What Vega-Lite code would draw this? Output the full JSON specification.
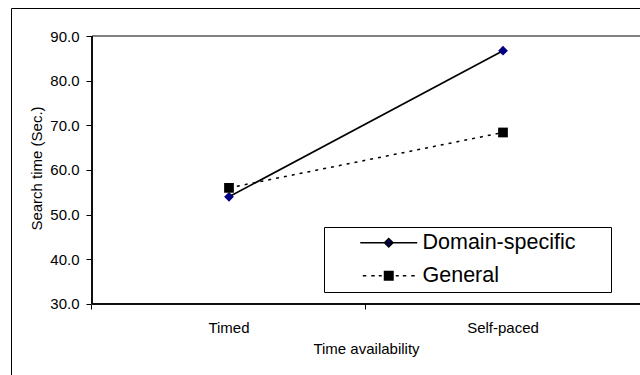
{
  "$schema": "https://vega.github.io/schema/vega-lite/v6.json",
  "width": 629,
  "height": 367,
  "autosize": {"type": "none"},
  "padding": {"left": 11, "top": 8, "right": 0, "bottom": 0},
  "background": "white",
  "config": {
    "view": {"stroke": "black", "strokeWidth": 1},
    "font": "Liberation Sans"
  },
  "data": {
    "values": [
      {"series": "Domain-specific", "time": "Timed", "value": 54.0},
      {"series": "Domain-specific", "time": "Self-paced", "value": 86.7},
      {"series": "General", "time": "Timed", "value": 56.0},
      {"series": "General", "time": "Self-paced", "value": 68.4}
    ]
  },
  "encoding": {
    "x": {
      "field": "time",
      "type": "ordinal",
      "scale": {"type": "band", "domain": ["Timed", "Self-paced"], "paddingInner": 0, "paddingOuter": 0.1478, "align": 1},
      "axis": {
        "orient": "bottom",
        "offset": -71,
        "domain": false,
        "grid": false,
        "bandPosition": 0,
        "tickExtra": true,
        "ticks": true,
        "tickSize": 5,
        "tickColor": "black",
        "labelAngle": 0,
        "labelFont": "Liberation Sans",
        "labelFontSize": 15,
        "labelColor": "black",
        "labelPadding": 11,
        "title": "Time availability",
        "titleFont": "Liberation Sans",
        "titleFontSize": 15,
        "titleFontWeight": "normal",
        "titleColor": "black",
        "titlePadding": 6,
        "titleX": 355
      }
    },
    "y": {
      "field": "value",
      "type": "quantitative",
      "scale": {"domain": [14.104, 96.269], "nice": false, "zero": false},
      "axis": {
        "orient": "left",
        "offset": -80,
        "domain": false,
        "grid": false,
        "values": [30, 40, 50, 60, 70, 80, 90],
        "format": ".1f",
        "tickSize": 5,
        "tickColor": "black",
        "labelFont": "Liberation Sans",
        "labelFontSize": 15,
        "labelColor": "black",
        "labelPadding": 7,
        "title": "Search time (Sec.)",
        "titleFont": "Liberation Sans",
        "titleFontSize": 15,
        "titleFontWeight": "normal",
        "titleColor": "black",
        "titlePadding": 5,
        "titleY": 160
      }
    }
  },
  "layer": [
    {
      "mark": {"type": "rule", "color": "#808080", "strokeWidth": 1.5},
      "encoding": {
        "x": {"datum": "Timed", "type": "ordinal", "bandPosition": 0},
        "x2": {"datum": "Self-paced", "bandPosition": 1},
        "y": {"datum": 90, "type": "quantitative"}
      }
    },
    {
      "mark": {"type": "rule", "color": "black", "strokeWidth": 1},
      "encoding": {
        "x": {"datum": "Timed", "type": "ordinal", "bandPosition": 0},
        "y": {"datum": 30, "type": "quantitative"},
        "y2": {"datum": 90}
      }
    },
    {
      "mark": {"type": "rule", "color": "black", "strokeWidth": 1},
      "encoding": {
        "x": {"datum": "Timed", "type": "ordinal", "bandPosition": 0},
        "x2": {"datum": "Self-paced", "bandPosition": 1},
        "y": {"datum": 30, "type": "quantitative"}
      }
    },
    {
      "transform": [{"filter": "datum.series === 'Domain-specific'"}],
      "mark": {"type": "line", "color": "black", "strokeWidth": 1.6},
      "encoding": {}
    },
    {
      "transform": [{"filter": "datum.series === 'General'"}],
      "mark": {"type": "line", "color": "black", "strokeWidth": 1.5, "strokeDash": [3, 5]},
      "encoding": {}
    },
    {
      "transform": [{"filter": "datum.series === 'Domain-specific'"}],
      "mark": {"type": "point", "filled": true, "opacity": 1, "size": 95, "shape": "diamond", "color": "#000080"},
      "encoding": {}
    },
    {
      "transform": [{"filter": "datum.series === 'General'"}],
      "mark": {"type": "point", "filled": true, "opacity": 1, "size": 95, "shape": "square", "color": "#000000"},
      "encoding": {}
    },
    {
      "mark": {"type": "point", "filled": true, "opacity": 1, "size": 0, "stroke": "black", "strokeWidth": 1.5},
      "encoding": {
        "color": {
          "field": "series",
          "type": "nominal",
          "scale": {"domain": ["Domain-specific", "General"], "range": ["#000080", "#000000"]},
          "legend": {
            "orient": "none",
            "legendX": 313,
            "legendY": 219,
            "title": ".",
            "titleOrient": "right",
            "titleColor": "white",
            "titleFontSize": 10,
            "titlePadding": 28,
            "direction": "vertical",
            "strokeColor": "black",
            "fillColor": "white",
            "padding": 5,
            "labelFont": "Liberation Sans",
            "labelFontSize": 21.5,
            "labelColor": "black",
            "labelLimit": 400,
            "symbolSize": 100,
            "symbolOffset": 49,
            "labelOffset": 23,
            "rowPadding": 10,
            "symbolOpacity": 1,
            "symbolStrokeWidth": 1.5
          }
        },
        "shape": {
          "field": "series",
          "type": "nominal",
          "scale": {
            "domain": ["Domain-specific", "General"],
            "range": [
              "M-5.7,0H5.7M0,-0.85L0.85,0L0,0.85L-0.85,0Z",
              "M-5.2,0H-4.5M-3.5,0H-2.8M-2,0H-1.4M1.4,0H2M2.8,0H3.5M4.5,0H5.2M-0.85,-0.85H0.85V0.85H-0.85Z"
            ]
          }
        }
      }
    }
  ]
}
